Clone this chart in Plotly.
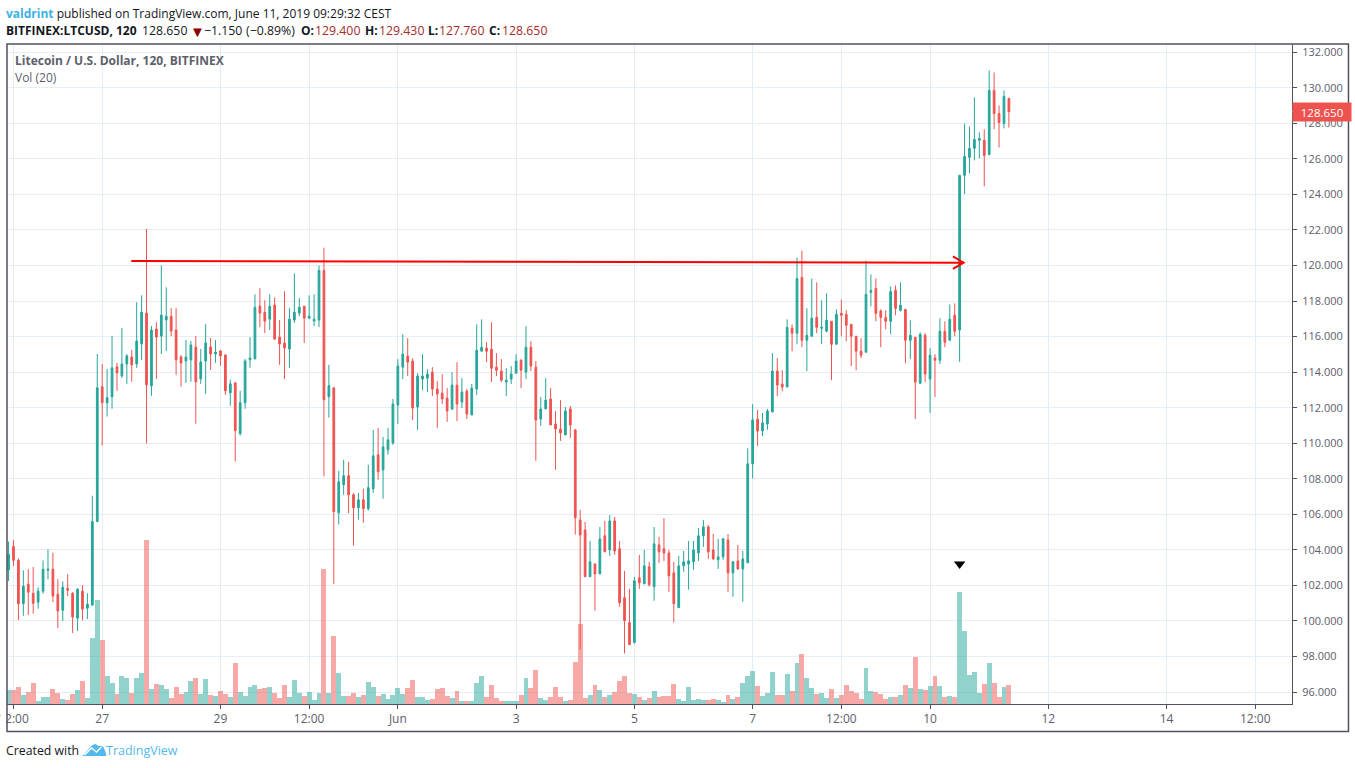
import pandas as pd
import plotly.graph_objects as go

# 2h candles
opens = [
    102.87, 104.19, 103.41, 100.97, 102.07, 101.56, 101.06, 101.68, 102.85, 102.91,
    101.51, 100.61, 101.84, 101.56, 100.16, 101.68, 100.72, 100.89, 105.59, 113.18,
    112.28, 112.62, 114.30, 113.79, 114.46, 114.85, 114.46, 115.58, 117.32, 113.23,
    116.42, 116.03, 116.93, 117.15, 116.37, 114.85, 114.63, 114.69, 115.41, 113.62,
    114.63, 115.41, 115.02, 115.19, 114.97, 112.84, 113.40, 110.54, 112.28, 114.69,
    114.74, 117.71, 117.37, 116.98, 117.77, 115.97, 115.64, 115.30, 116.93, 117.32,
    117.71, 117.04, 116.87, 116.93, 119.72, 112.62, 113.12, 106.09, 107.66, 108.17,
    107.10, 106.37, 106.82, 106.32, 107.44, 109.35, 108.50, 109.63, 110.02, 112.15,
    114.28, 114.90, 114.62, 112.04, 113.61, 113.66, 114.00, 113.05, 112.82, 112.54,
    111.92, 113.27, 112.32, 112.93, 111.59, 113.05, 115.18, 115.35, 115.29, 114.28,
    114.06, 113.44, 113.61, 113.94, 114.67, 114.00, 115.40, 114.28, 111.36, 111.93,
    112.49, 111.08, 110.80, 110.47, 111.93, 110.75, 105.68, 105.12, 102.49, 103.21,
    102.65, 104.79, 104.00, 105.63, 104.06, 101.31, 99.91, 98.79, 102.43, 102.09,
    103.05, 101.93, 104.28, 104.06, 103.83, 102.71, 100.75, 103.10, 103.21, 103.33,
    103.83, 104.79, 105.29, 104.00, 103.44, 103.61, 104.56, 102.71, 103.38, 102.93,
    103.27, 108.84, 111.36, 110.69, 111.08, 111.76, 114.06, 113.33, 113.16, 116.47,
    116.19, 119.33, 115.79, 116.02, 117.08, 116.47, 116.30, 116.86, 115.57, 117.31,
    117.25, 116.69, 116.02, 115.18, 115.12, 118.49, 118.71, 117.44, 117.08, 116.86,
    118.60, 117.48, 117.53, 115.79, 115.96, 113.38, 116.07, 113.61, 114.79, 114.67,
    116.30, 115.79, 117.20, 116.37, 125.07, 126.08, 126.59, 127.04, 127.04, 126.25,
    129.85, 128.55, 127.99, 129.40,
]
highs = [
    104.47, 104.55, 103.52, 102.85, 102.91, 103.04, 101.90, 103.41, 104.03, 103.84,
    102.35, 102.23, 102.63, 101.62, 101.84, 102.01, 101.56, 107.05, 115.02, 114.46,
    114.18, 116.03, 114.52, 116.48, 115.02, 115.25, 117.93, 118.32, 122.06, 116.59,
    116.81, 120.00, 118.77, 117.60, 117.60, 114.97, 115.81, 115.75, 116.03, 115.30,
    116.70, 115.92, 115.81, 115.25, 114.97, 113.57, 113.40, 112.95, 114.74, 115.97,
    118.38, 118.72, 118.04, 118.38, 118.21, 116.93, 118.55, 117.60, 119.56, 118.16,
    117.71, 118.32, 118.38, 120.00, 121.00, 114.41, 113.12, 108.45, 109.07, 108.95,
    107.20, 107.20, 107.44, 108.79, 110.75, 110.86, 110.36, 110.86, 112.49, 114.73,
    116.13, 115.91, 114.78, 113.94, 115.01, 114.17, 114.28, 113.50, 113.89, 113.10,
    114.00, 114.56, 113.66, 113.05, 113.33, 116.69, 116.97, 115.68, 116.80, 115.07,
    114.73, 114.22, 114.34, 115.01, 114.73, 116.58, 115.74, 114.62, 112.60, 113.66,
    113.10, 111.81, 112.43, 112.04, 112.09, 110.80, 106.24, 105.57, 104.50, 103.21,
    105.29, 105.63, 105.96, 105.85, 104.50, 102.82, 101.81, 102.49, 103.72, 104.00,
    103.33, 105.29, 104.73, 105.79, 104.00, 103.33, 103.66, 103.94, 104.50, 104.50,
    105.23, 105.68, 105.40, 104.90, 104.62, 104.67, 104.90, 103.38, 104.28, 103.94,
    109.72, 112.20, 111.87, 111.70, 111.93, 115.07, 114.79, 114.11, 116.97, 116.69,
    120.45, 120.84, 117.59, 119.27, 119.05, 118.04, 118.43, 116.86, 117.53, 118.09,
    117.48, 116.69, 116.02, 115.91, 120.28, 119.50, 119.27, 117.53, 117.48, 118.82,
    118.88, 119.05, 117.53, 116.92, 115.96, 116.24, 116.19, 115.35, 115.01, 117.03,
    116.86, 117.81, 117.87, 125.07, 127.99, 127.82, 129.45, 127.49, 127.66, 130.97,
    130.86, 129.00, 129.85, 129.43,
]
lows = [
    102.25, 103.09, 100.05, 100.29, 100.35, 100.41, 100.69, 101.54, 102.35, 101.06,
    99.60, 100.00, 101.40, 99.32, 99.44, 100.03, 100.11, 100.89, 105.59, 109.87,
    111.50, 111.94, 112.95, 113.68, 113.34, 113.46, 114.24, 114.69, 109.99, 112.67,
    113.62, 115.02, 115.19, 116.03, 113.85, 113.18, 113.40, 113.46, 111.10, 113.34,
    112.78, 114.13, 114.52, 114.35, 112.73, 112.11, 108.98, 110.43, 111.94, 114.24,
    114.74, 116.53, 116.20, 116.37, 115.81, 114.41, 113.62, 114.24, 116.76, 117.15,
    115.64, 116.98, 116.59, 116.53, 108.13, 111.44, 102.07, 105.42, 107.10, 106.07,
    104.24, 105.70, 105.53, 106.21, 107.21, 107.94, 106.88, 109.35, 109.91, 111.08,
    113.61, 113.78, 111.31, 110.75, 112.99, 112.88, 112.65, 110.86, 112.21, 111.20,
    111.87, 111.25, 111.98, 111.36, 111.59, 112.71, 115.18, 114.56, 113.44, 113.78,
    113.44, 112.65, 113.33, 113.94, 113.10, 113.61, 114.06, 109.01, 110.97, 111.93,
    111.03, 108.50, 110.13, 110.47, 110.30, 104.86, 98.39, 102.49, 102.49, 100.58,
    102.65, 103.89, 103.66, 103.72, 100.80, 98.17, 98.67, 98.73, 101.81, 102.09,
    101.93, 101.14, 103.27, 103.38, 101.64, 99.91, 100.75, 102.77, 101.76, 102.88,
    103.38, 104.17, 103.49, 103.44, 102.93, 103.44, 101.64, 101.36, 102.88, 101.08,
    103.27, 108.02, 109.85, 110.41, 110.75, 111.76, 112.65, 112.93, 113.16, 115.18,
    115.57, 115.40, 114.06, 116.02, 116.19, 115.57, 116.24, 113.55, 115.57, 116.02,
    115.74, 114.34, 114.11, 114.79, 115.12, 117.70, 116.86, 115.40, 116.41, 116.13,
    117.20, 117.42, 114.50, 114.73, 111.36, 113.33, 113.44, 111.70, 112.60, 114.45,
    115.40, 115.79, 116.02, 114.58, 124.02, 125.18, 125.91, 126.03, 124.45, 126.19,
    127.66, 126.64, 127.71, 127.76,
]
closes = [
    103.75, 103.41, 100.97, 101.96, 101.62, 101.00, 101.68, 102.91, 102.91, 101.40,
    100.56, 101.90, 101.73, 100.22, 101.79, 100.67, 100.95, 105.59, 113.12, 112.28,
    112.56, 114.24, 113.96, 114.46, 114.91, 114.41, 115.75, 117.37, 113.29, 116.37,
    115.97, 117.21, 117.15, 116.31, 114.69, 114.52, 114.85, 115.53, 113.46, 114.57,
    115.64, 115.02, 115.13, 114.91, 112.95, 113.34, 110.71, 112.28, 114.63, 114.80,
    117.65, 117.32, 116.87, 117.71, 115.86, 115.58, 115.36, 116.98, 117.37, 117.65,
    117.04, 117.15, 116.98, 119.72, 112.45, 113.23, 106.15, 107.83, 108.17, 107.10,
    106.37, 106.82, 106.32, 107.50, 109.29, 108.39, 109.79, 110.19, 112.21, 114.34,
    115.01, 114.56, 111.98, 113.78, 113.78, 113.89, 113.05, 112.77, 112.49, 111.81,
    113.27, 112.21, 112.88, 111.64, 113.10, 115.23, 115.40, 115.18, 114.22, 114.11,
    113.55, 113.55, 113.89, 114.62, 114.11, 115.40, 114.34, 111.31, 111.93, 112.43,
    111.03, 110.80, 110.58, 111.81, 111.03, 105.81, 104.84, 102.49, 103.33, 102.65,
    104.62, 103.89, 105.63, 103.94, 101.03, 100.02, 98.67, 102.26, 102.15, 103.10,
    102.04, 104.34, 103.89, 103.83, 102.54, 100.97, 103.10, 103.33, 103.38, 104.00,
    104.79, 105.29, 103.89, 103.49, 103.61, 104.62, 102.71, 103.33, 102.93, 103.49,
    108.84, 111.31, 110.69, 111.14, 111.81, 114.06, 113.27, 113.16, 116.52, 116.19,
    119.27, 115.79, 116.07, 117.03, 116.52, 116.52, 116.92, 115.57, 117.25, 117.20,
    116.64, 116.02, 115.18, 114.95, 118.37, 118.60, 117.31, 117.08, 116.86, 118.54,
    117.59, 117.76, 115.79, 116.07, 113.44, 116.13, 113.89, 114.95, 114.67, 116.30,
    115.68, 116.97, 116.30, 125.07, 126.14, 126.59, 127.09, 127.15, 126.19, 129.85,
    128.55, 128.05, 129.51, 128.65,
]
volumes = [
    4.2, 4.2, 5.1, 2.7, 3.6, 6.3, 0.9, 2.1, 2.1, 4.5,
    3.3, 1.5, 1.2, 3.0, 4.2, 6.9, 1.8, 19.8, 31.2, 19.2,
    8.4, 6.3, 3.0, 8.4, 7.8, 3.3, 7.8, 9.3, 49.2, 4.5,
    6.0, 5.7, 4.5, 1.8, 5.1, 3.0, 3.6, 6.9, 7.8, 3.0,
    7.5, 2.7, 2.4, 3.9, 3.0, 2.1, 12.3, 3.6, 2.4, 5.1,
    5.7, 4.5, 4.8, 5.1, 3.3, 1.8, 5.7, 2.1, 7.2, 3.3,
    2.4, 3.6, 1.2, 3.3, 40.5, 3.3, 20.4, 9.3, 2.4, 2.4,
    3.3, 2.1, 2.7, 6.6, 5.1, 2.4, 3.0, 1.5, 2.7, 4.8,
    3.0, 4.7, 7.2, 2.1, 2.1, 1.2, 1.5, 4.5, 4.8, 2.4,
    1.8, 3.9, 0.9, 0.9, 0.9, 6.3, 8.4, 2.1, 5.7, 1.8,
    0.9, 0.9, 0.9, 0.9, 2.7, 7.8, 4.8, 10.2, 1.8, 1.2,
    2.1, 5.1, 2.1, 0.9, 1.2, 12.6, 24.0, 1.8, 2.7, 5.7,
    4.2, 2.1, 2.7, 3.6, 6.9, 8.4, 3.3, 3.0, 2.1, 1.2,
    1.8, 3.9, 2.1, 2.4, 2.4, 6.0, 1.5, 0.9, 5.1, 1.2,
    1.5, 1.2, 1.2, 1.5, 1.2, 0.6, 2.7, 1.5, 2.1, 6.3,
    8.4, 9.9, 5.4, 2.4, 3.3, 9.6, 2.7, 2.7, 9.0, 3.9,
    12.3, 15.0, 7.8, 4.8, 3.0, 3.3, 1.8, 4.5, 1.8, 2.7,
    5.7, 3.9, 3.3, 1.5, 10.8, 3.9, 3.6, 3.0, 1.5, 2.1,
    2.1, 2.7, 5.7, 4.8, 14.1, 4.5, 4.2, 5.4, 8.4, 5.4,
    2.1, 2.4, 2.1, 33.6, 21.9, 8.7, 9.6, 3.3, 6.0, 12.3,
    6.3, 2.1, 5.1, 5.7,
]
tick_dates = ["2019-05-25 12:00", "2019-05-27", "2019-05-29", "2019-05-30 12:00", "2019-06-01",
              "2019-06-03", "2019-06-05", "2019-06-07", "2019-06-08 12:00", "2019-06-10",
              "2019-06-12", "2019-06-14", "2019-06-15 12:00"]
tick_labels = ["12:00", "27", "29", "12:00", "Jun", "3", "5", "7", "12:00", "10", "12", "14", "12:00"]
price_ticks = [96, 98, 100, 102, 104, 106, 108, 110, 112, 114, 116, 118, 120, 122, 124, 126, 128, 130, 132]
line_dates = ["2019-05-27 11:48", "2019-06-10 13:36"]
line_prices = [120.25, 120.16]
head_dates = ["2019-06-10 09:17", "2019-06-10 13:36", "2019-06-10 09:17"]
head_prices = [120.51, 120.16, 119.81]
marker_date = ["2019-06-10 12:00"]
marker_price = [103.2]
last_price = 128.65

dates = pd.date_range("2019-05-25 10:00", periods=len(opens), freq="2h")

GREEN = "#26a69a"
RED = "#ef5350"
GRID = "#e6eef5"
FRAME = "#50535e"
TEXT = "#5d606b"
BLUE = "#3bb3e4"
LOGO = "#53b9ea"
INK = "#131722"
DARK_RED = "#a52a2a"
FONT = "Open Sans"

# plot area in page pixels
LEFT, RIGHT, TOP, BOTTOM = 6.5, 1292, 43.5, 704


def px(x):
    return (x - LEFT) / (RIGHT - LEFT)


def py(y):
    return (BOTTOM - y) / (BOTTOM - TOP)


def label(x, y, text, size=12, color=INK):
    # annotations pad their text by a little under 3px
    return dict(xref="paper", yref="paper", x=px(x - 2.5), y=py(y), xanchor="left", yanchor="middle",
                text=text, showarrow=False, font=dict(family=FONT, size=size, color=color))


def rect(x0, y0, x1, y1, **kw):
    return dict(type="rect", xref="paper", yref="paper", layer="above",
                x0=px(x0), y0=py(y0), x1=px(x1), y1=py(y1), **kw)


def poly(points):
    return "M " + " L ".join("%f %f" % (px(x), py(y)) for x, y in points)


vol_colors = ["rgba(38,166,154,0.5)" if c >= o else "rgba(239,83,80,0.5)" for o, c in zip(opens, closes)]

fig = go.Figure()
fig.add_trace(go.Bar(x=dates, y=volumes, marker=dict(color=vol_colors, line=dict(width=0)),
                     yaxis="y", hoverinfo="skip"))
fig.add_trace(go.Candlestick(
    x=dates, open=opens, high=highs, low=lows, close=closes, yaxis="y2",
    increasing=dict(line=dict(color=GREEN, width=1), fillcolor=GREEN),
    decreasing=dict(line=dict(color=RED, width=1), fillcolor=RED),
    whiskerwidth=0))
fig.add_trace(go.Scatter(x=line_dates, y=line_prices, mode="lines", yaxis="y2",
                         line=dict(color="#ff0000", width=2)))
fig.add_trace(go.Scatter(x=head_dates, y=head_prices, mode="lines", yaxis="y2",
                         line=dict(color="#ff0000", width=2)))
fig.add_trace(go.Scatter(x=marker_date, y=marker_price, mode="markers", yaxis="y2",
                         marker=dict(symbol="triangle-down", size=10, color="#000000")))

header = ('<b><span style="color:%s">valdrint</span></b> published on TradingView.com, '
          'June 11, 2019 09:29:32 CEST' % BLUE)

annotations = [
    label(6, 13, header, size=12),
    # quote line, placed piece by piece
    label(6, 30, "<b>BITFINEX:LTCUSD, 120</b>"),
    label(142, 30, "128.650", size=12.3),
    label(190, 30, "▼", size=15, color="#8b0000"),
    label(204, 30, "−1.150", size=12.3),
    label(246, 30, "(−0.89%)", size=12.3),
    label(300.7, 30, "<b>O:</b>"),
    label(314.7, 30, "129.400", size=12.3, color=DARK_RED),
    label(364.7, 30, "<b>H:</b>"),
    label(379.3, 30, "129.430", size=12.3, color=DARK_RED),
    label(428.3, 30, "<b>L:</b>"),
    label(439.5, 30, "127.760", size=12.3, color=DARK_RED),
    label(489.3, 30, "<b>C:</b>"),
    label(501.7, 30, "128.650", size=12.3, color=DARK_RED),
    label(15, 60, "<b>Litecoin / U.S. Dollar, 120, BITFINEX</b>", color=TEXT),
    label(15, 77, "Vol (20)", color=TEXT),
    label(6, 751, "Created with", size=12.3),
    label(106, 751, "TradingView", size=12.5, color=LOGO),
    dict(xref="paper", yref="y2", x=1, y=last_price, xanchor="left", yanchor="middle",
         text="128.650", showarrow=False, bgcolor=RED, width=56, height=16, align="center",
         font=dict(family=FONT, size=11.5, color="#ffffff")),
]

logo = poly([(82, 756), (89, 748), (92, 745), (95, 744), (98, 746), (101, 746),
             (103, 747), (105, 752), (106, 756)]) + " Z"
logo_line = poly([(84, 755), (91, 748), (96, 752), (101, 747)])

shapes = [
    rect(0, 700, LEFT - 0.5, 731, fillcolor="#ffffff", line=dict(width=0)),
    rect(6.5, 43.5, 1348.5, 731.5, line=dict(color=FRAME, width=1.5)),
    dict(type="line", xref="paper", yref="y2", layer="above", x0=1, x1=px(RIGHT + 4),
         y0=last_price, y1=last_price, line=dict(color="#ffffff", width=1)),
    dict(type="path", xref="paper", yref="paper", layer="above", path=logo,
         fillcolor=LOGO, line=dict(width=0)),
    dict(type="path", xref="paper", yref="paper", layer="above", path=logo_line,
         line=dict(color="#ffffff", width=1.5)),
]

fig.update_layout(
    width=1355, height=768, autosize=False,
    margin=dict(l=LEFT, r=1355 - RIGHT, t=TOP, b=768 - BOTTOM, pad=0, autoexpand=False),
    paper_bgcolor="#ffffff", plot_bgcolor="#ffffff",
    showlegend=False, bargap=0, boxgap=0.5,
    font=dict(family=FONT, size=12, color=TEXT),
    xaxis=dict(type="date", range=["2019-05-25 09:22", "2019-06-16 02:54"],
               tickmode="array", tickvals=tick_dates, ticktext=tick_labels,
               ticks="outside", ticklen=4, tickcolor=FRAME, gridcolor=GRID, gridwidth=1,
               showline=True, linecolor=FRAME, linewidth=1, rangeslider=dict(visible=False),
               ticklabeloverflow="allow", zeroline=False),
    yaxis=dict(range=[0, 198.15], visible=False, fixedrange=True),
    yaxis2=dict(overlaying="y", side="right", range=[95.33, 132.46],
                tickmode="array", tickvals=price_ticks, tickformat=".3f",
                tickfont=dict(size=11), ticklabelstandoff=3,
                ticks="outside", ticklen=4, tickcolor=FRAME, gridcolor=GRID, gridwidth=1,
                showline=True, linecolor=FRAME, linewidth=1, zeroline=False),
    annotations=annotations, shapes=shapes,
)

fig.write_html("out.html", config=dict(displayModeBar=False),
               post_script="document.body.style.margin='0';")
